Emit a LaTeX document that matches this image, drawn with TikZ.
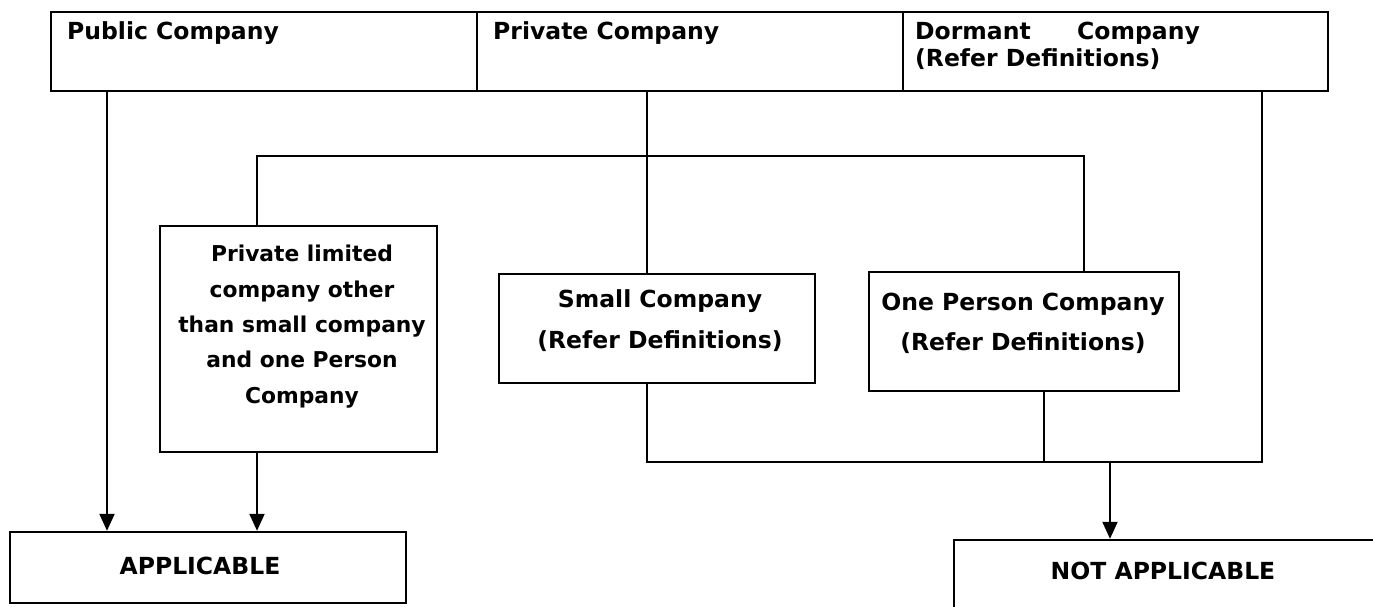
\documentclass[tikz,border=0pt]{standalone}
\usepackage{fontspec}
\setmainfont{DejaVu Sans}
\usetikzlibrary{arrows.meta}
\begin{document}
\begin{tikzpicture}[x=1pt,y=-1pt,
  box/.style={draw,line width=2.4pt,inner sep=0pt},
  conn/.style={line width=2pt},
  arr/.style={conn,-{Triangle[width=15pt,length=17pt]}},
  lbl/.style={inner sep=0pt,font=\bfseries\fontsize{23.5}{#1}\selectfont},
  lbl/.default=28]
\useasboundingbox (0,0) rectangle (1373,607);
\clip (0,0) rectangle (1373,607);
% boxes
\node[box,minimum width=426pt,minimum height=79pt] (pub) at (264,51.5) {};
\node[box,minimum width=426pt,minimum height=79pt] (priv) at (690,51.5) {};
\node[box,minimum width=425pt,minimum height=79pt] (dorm) at (1115.5,51.5) {};
\node[box,minimum width=277pt,minimum height=226pt] (plc) at (298.5,339) {};
\node[box,minimum width=316pt,minimum height=109pt] (small) at (657,328.5) {};
\node[box,minimum width=310pt,minimum height=119pt] (opc) at (1024,331.5) {};
\node[box,minimum width=396pt,minimum height=71pt] (app) at (208,567.5) {};
\node[box,minimum width=460pt,minimum height=100pt] (napp) at (1184,590) {};
% texts (base anchor = baseline of last line)
\node[lbl,anchor=base west] (tpub) at (67,40) {Public Company};
\node[lbl,anchor=base west] (tpriv) at (493,40) {Private Company};
\node[lbl=27,anchor=base west,align=left] (tdorm) at (915,67) {Dormant\hspace{46.5pt}Company\\(Refer Definitions)};
\node[inner sep=0pt,font=\bfseries\fontsize{21.8}{35.3}\selectfont,anchor=base,align=center] (tplc) at (302,403) {Private limited\\company other\\than small company\\and one Person\\Company};
\node[lbl=41,anchor=base,align=center] (tsmall) at (660,348) {Small Company\\(Refer Definitions)};
\node[lbl=40,anchor=base,align=center] (topc) at (1023,350) {One Person Company\\(Refer Definitions)};
\node[lbl,anchor=base] (tapp) at (200,574) {APPLICABLE};
\node[lbl,anchor=base] (tnapp) at (1163,579) {NOT APPLICABLE};
% connector helpers
\coordinate (xa) at (107,0);
\coordinate (xb) at (257,0);
\coordinate (xc) at (647,0);
\coordinate (xd) at (1084,0);
\coordinate (xe) at (1044,0);
\coordinate (xf) at (1262,0);
\coordinate (xg) at (1110,0);
\coordinate (jtop) at (0,156);
\coordinate (jbot) at (0,462);
% connectors
\draw[arr] (pub.south -| xa) -- (app.north -| xa);
\draw[arr] (plc.south -| xb) -- (app.north -| xb);
\draw[conn] (priv.south -| xc) -- (small.north -| xc);
\draw[conn] (plc.north -| xb) -- (jtop -| xb) -- (jtop -| xd) -- (opc.north -| xd);
\draw[conn] (small.south -| xc) -- (jbot -| xc) -- (jbot -| xf) -- (dorm.south -| xf);
\draw[conn] (opc.south -| xe) -- (jbot -| xe);
\draw[arr] (jbot -| xg) -- (napp.north -| xg);
\end{tikzpicture}
\end{document}
